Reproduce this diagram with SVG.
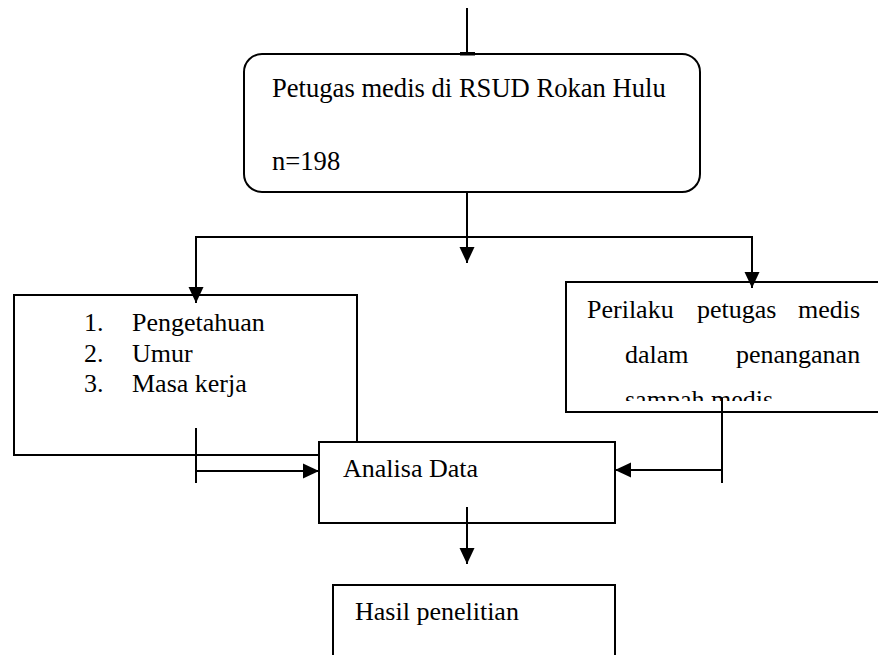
<svg xmlns="http://www.w3.org/2000/svg" width="878" height="655" viewBox="0 0 878 655">
<style>
.box{fill:#fff;stroke:#000;stroke-width:2}
.ln{fill:none;stroke:#000;stroke-width:2}
text{font-family:'Liberation Serif','Times New Roman','DejaVu Serif',serif;font-size:26px;fill:#000}
.big{font-size:26.6px}
</style>
<defs>
<marker id="arr" markerWidth="16" markerHeight="16" refX="16" refY="8" orient="auto" markerUnits="userSpaceOnUse">
<path d="M0,0.5 L16,8 L0,15.5 z" fill="#000"/>
</marker>
<clipPath id="clipR"><rect x="566" y="283" width="320" height="118"/></clipPath>
</defs>
<rect width="878" height="655" fill="#fff"/>
<g id="node-petugas">
<rect class="box" x="244" y="54" width="456" height="138" rx="18" ry="18"/>
<text class="big" x="272" y="97">Petugas medis di RSUD Rokan Hulu</text>
<text class="big" x="272" y="170">n=198</text>
</g>
<g id="node-variabel">
<rect class="box" x="14" y="295" width="343" height="160"/>
<text x="84" y="331">1.</text><text x="132" y="331">Pengetahuan</text>
<text x="84" y="362">2.</text><text x="132" y="362">Umur</text>
<text x="84" y="392">3.</text><text x="132" y="392">Masa kerja</text>
</g>
<g id="node-perilaku">
<rect class="box" x="566" y="282" width="330" height="130"/>
<g clip-path="url(#clipR)">
<text x="587" y="318">Perilaku</text>
<text x="697" y="318">petugas</text>
<text x="798" y="318">medis</text>
<text x="625" y="363">dalam</text>
<text x="736" y="363">penanganan</text>
<text x="625" y="408">sampah medis</text>
</g>
</g>
<g id="node-analisa">
<rect class="box" x="319" y="442" width="296" height="81"/>
<text x="343" y="477">Analisa Data</text>
</g>
<g id="node-hasil">
<rect class="box" x="333" y="585" width="282" height="80"/>
<text x="355" y="620">Hasil penelitian</text>
</g>
<g id="connectors">
<line class="ln" x1="467" y1="8" x2="467" y2="54"/>
<rect x="460" y="52" width="15" height="3.5" fill="#000"/>
<line class="ln" x1="467" y1="192" x2="467" y2="263" marker-end="url(#arr)"/>
<line class="ln" x1="195" y1="237" x2="753" y2="237"/>
<line class="ln" x1="196" y1="237" x2="196" y2="303" marker-end="url(#arr)"/>
<line class="ln" x1="752" y1="237" x2="752" y2="288" marker-end="url(#arr)"/>
<line class="ln" x1="196" y1="428" x2="196" y2="483"/>
<line class="ln" x1="196" y1="471" x2="319" y2="471" marker-end="url(#arr)"/>
<line class="ln" x1="722" y1="398" x2="722" y2="483"/>
<line class="ln" x1="722" y1="470" x2="615" y2="470" marker-end="url(#arr)"/>
<line class="ln" x1="467" y1="507" x2="467" y2="564" marker-end="url(#arr)"/>
</g>
</svg>
